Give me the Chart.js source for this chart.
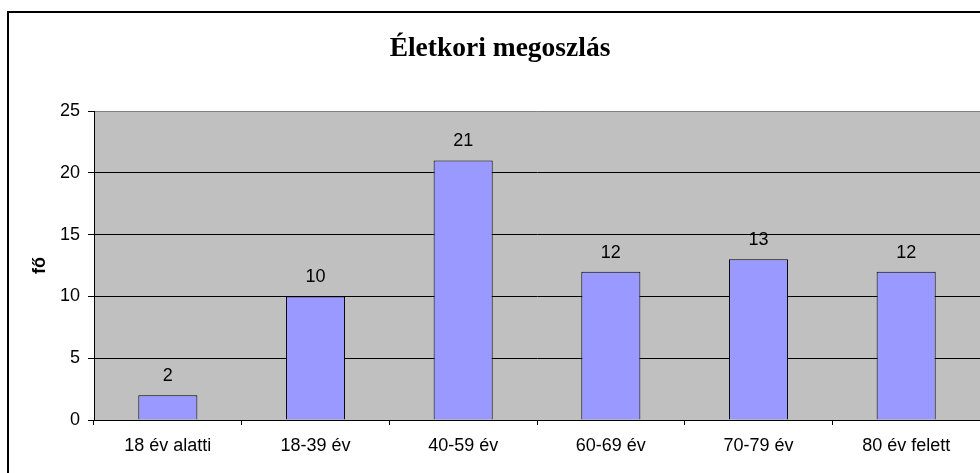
<!DOCTYPE html>
<html>
<head>
<meta charset="utf-8">
<script src="https://cdn.jsdelivr.net/npm/chart.js@4.4.1/dist/chart.umd.min.js"></script>
<style>
  html, body { margin: 0; padding: 0; background: #fff; overflow: hidden; }
  #wrap { width: 980px; height: 473px; position: relative; }
</style>
</head>
<body>
<div id="wrap"><canvas id="korChart"></canvas></div>
<script>
// adatok
let categories = ['18 év alatti', '18-39 év', '40-59 év', '60-69 év', '70-79 év', '80 év felett'];
let values = [2, 10, 21, 12, 13, 12];
let yTicks = [0, 5, 10, 15, 20, 25];
let chartTitle = 'Életkori megoszlás';
let yTitle = 'fő';

let sans = '"Liberation Sans", Arial, sans-serif';

// hatter, keret, cim, ertekcimkek
let excelLook = {
  id: 'excelLook',
  beforeDraw(chart) {
    let ctx = chart.ctx;
    let a = chart.chartArea;
    ctx.save();
    ctx.fillStyle = '#fff';
    ctx.fillRect(0, 0, chart.width, chart.height);
    ctx.strokeStyle = '#000';
    ctx.lineWidth = 2;
    ctx.strokeRect(8, 12, 1200, 1200);
    ctx.fillStyle = '#C0C0C0';
    ctx.fillRect(a.left, a.top, a.right - a.left, a.bottom - a.top);
    ctx.fillStyle = '#000';
    ctx.font = 'bold 27.5px "Liberation Serif", "Times New Roman", serif';
    ctx.textAlign = 'center';
    ctx.textBaseline = 'alphabetic';
    ctx.fillText(chartTitle, 500, 56);
    ctx.restore();
  },
  afterDatasetsDraw(chart) {
    let ctx = chart.ctx;
    let meta = chart.getDatasetMeta(0);
    ctx.save();
    ctx.fillStyle = '#000';
    ctx.font = '18px ' + sans;
    ctx.textAlign = 'center';
    ctx.textBaseline = 'alphabetic';
    meta.data.forEach((bar, i) => {
      ctx.fillText(values[i], bar.x, bar.y - 14);
    });
    ctx.restore();
  }
};

let ctx = document.getElementById('korChart').getContext('2d');

let korChart = new Chart(ctx, {
  type: 'bar',
  data: {
    labels: categories,
    datasets: [{
      data: values,
      backgroundColor: '#9999FF',
      borderColor: '#000',
      borderWidth: 1,
      barPercentage: 0.4,
      categoryPercentage: 1.0
    }]
  },
  options: {
    responsive: true,
    maintainAspectRatio: false,
    animation: false,
    layout: { padding: { top: 111, left: 0, right: 0, bottom: 0 } },
    plugins: {
      legend: { display: false },
      title: { display: false },
      tooltip: { enabled: false }
    },
    scales: {
      x: {
        offset: true,
        grid: {
          offset: true,
          drawOnChartArea: false,
          drawTicks: true,
          tickLength: 5,
          tickColor: '#000'
        },
        border: { color: '#000', width: 1 },
        ticks: {
          color: '#000',
          font: { family: sans, size: 18 },
          padding: 10,
          maxRotation: 0,
          autoSkip: false
        },
        afterFit(scale) { scale.height = 53; }
      },
      y: {
        min: 0,
        max: 25,
        afterBuildTicks(scale) { scale.ticks = yTicks.map(v => ({ value: v })); },
        grid: {
          color: (c) => c.tick && c.tick.value === 25 ? '#808080' : '#000',
          tickColor: '#000',
          tickLength: 6,
          lineWidth: 1
        },
        border: { color: '#000', width: 1 },
        ticks: {
          color: '#000',
          font: { family: sans, size: 18 },
          padding: 8
        },
        title: {
          display: true,
          text: yTitle,
          color: '#000',
          font: { family: sans, size: 18, weight: 'bold' },
          padding: { top: 29, bottom: 0 }
        },
        afterFit(scale) { scale.width = 94; }
      }
    }
  },
  plugins: [excelLook]
});
</script>
</body>
</html>
